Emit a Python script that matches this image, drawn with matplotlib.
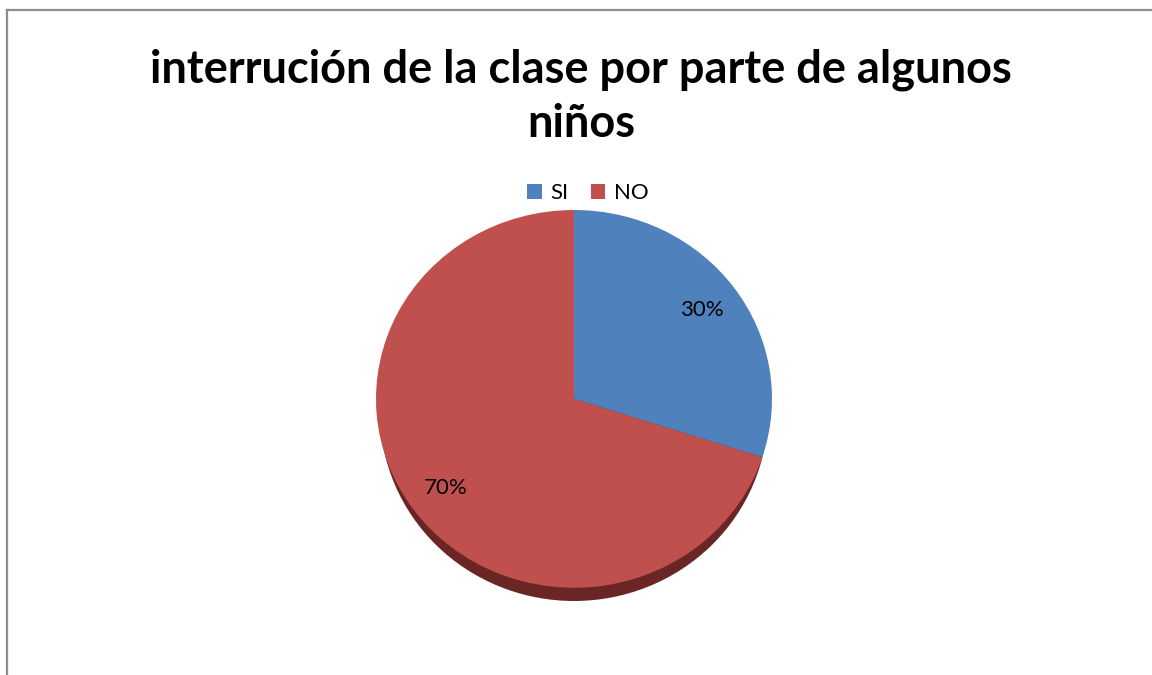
import matplotlib
matplotlib.use("Agg")
import matplotlib.pyplot as plt
from matplotlib.lines import Line2D
from matplotlib.patches import Patch, Ellipse

# Data
labels = ["SI", "NO"]
values = [30, 70]
colors = ["#4F81BD", "#C0504D"]
shadow_color = "#6A2624"

title = "interrución de la clase por parte de algunos\nniños"

W, H = 1152, 675
fig = plt.figure(figsize=(W / 100, H / 100), dpi=100)
plt.rcParams['font.family'] = ['Lato', 'DejaVu Sans']

# chart border (top and left visible)
fig.add_artist(Line2D([7 / W, 7 / W], [0, 1 - 10 / H], transform=fig.transFigure,
                      color="#8C8C8C", lw=1.6))
fig.add_artist(Line2D([7 / W, 1], [1 - 10 / H, 1 - 10 / H], transform=fig.transFigure,
                      color="#8C8C8C", lw=1.6))

fig.text(581 / W, 1 - 97 / H, title, ha="center", va="center",
         fontsize=32.5, fontweight="bold", linespacing=1.35)

# pie axes (slightly squashed, with depth at the bottom)
depth = 0.07
ax = fig.add_axes([376 / W, 1 - 601 / H, 396 / W, 391 / H])
ax.add_patch(Ellipse((0, -depth), 1.96, 2.0, facecolor=shadow_color, edgecolor="none"))
wedges, texts, autotexts = ax.pie(values, colors=colors, startangle=90, counterclock=False,
                                  radius=1, autopct="%d%%", pctdistance=0.8,
                                  wedgeprops=dict(linewidth=0),
                                  textprops=dict(fontsize=16, color="black"))
ax.set_aspect("auto")
ax.set_xlim(-1, 1)
ax.set_ylim(-1 - depth, 1)

handles = [Patch(facecolor=c, edgecolor="none") for c in colors]
fig.legend(handles, labels, loc="center", bbox_to_anchor=(588 / W, 1 - 193 / H),
           ncol=2, frameon=False, fontsize=16, handlelength=0.65, handleheight=0.65,
           handletextpad=0.4, columnspacing=1.0)

fig.savefig("out.png", dpi=100)
